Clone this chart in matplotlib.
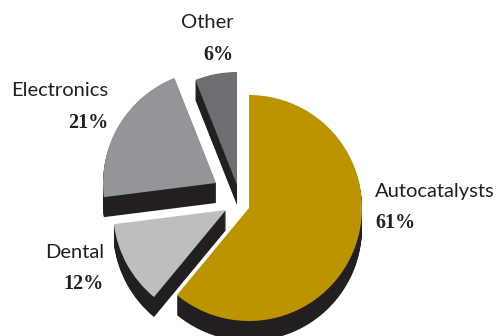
import matplotlib
matplotlib.use("Agg")
from matplotlib import pyplot as plt

categories = ["Autocatalysts", "Dental", "Electronics", "Other"]
shares = [61, 12, 21, 6]
colours = ["#BC9400", "#BCBEC0", "#939598", "#6D6E71"]

SIDE_COLOUR = "#231F20"
CENTRE = (249, 128)
RADIUS = 113
DEPTH = 20

# how far each slice is pulled away from the centre
shifts = [(0, 0), (-23, -2), (-33, 25), (-12, 23)]

# x, y and alignment of each label pair
label_spots = [
    (375, 145, 113, "left"),
    (104, 83, 52, "right"),
    (108, 245, 213, "right"),
    (234, 313, 281, "right"),
]


def drawSlices(ax, sliceColours, drop, zorder):
    wedges, _ = ax.pie(shares, colors=sliceColours, startangle=90, counterclock=False,
                       center=CENTRE, radius=RADIUS, frame=True)
    for wedge, (dx, dy) in zip(wedges, shifts):
        wedge.set_center((CENTRE[0] + dx, CENTRE[1] + dy - drop))
        wedge.set_zorder(zorder)
        wedge.set_linewidth(0)


f, ax = plt.subplots(1, 1, figsize=(4.96, 3.36), dpi=100)
f.subplots_adjust(left=0, right=1, top=1, bottom=0)

# stacked dark copies make the extruded side of the pie
for drop in range(DEPTH, 0, -1):
    drawSlices(ax, [SIDE_COLOUR] * len(shares), drop, 2)
drawSlices(ax, colours, 0, 3)

ax.set_xlim(0, 496)
ax.set_ylim(0, 336)
ax.set_aspect("equal")
ax.axis("off")

for name, share, (x, yName, yShare, align) in zip(categories, shares, label_spots):
    ax.text(x, yName, name, ha=align, va="center", fontsize=14.5,
            family="Lato", color="#231F20")
    ax.text(x, yShare, f"{share}%", ha=align, va="center", fontsize=14.5,
            family="Liberation Serif", weight="bold", color="#231F20")

plt.savefig("out.png", dpi=100)
